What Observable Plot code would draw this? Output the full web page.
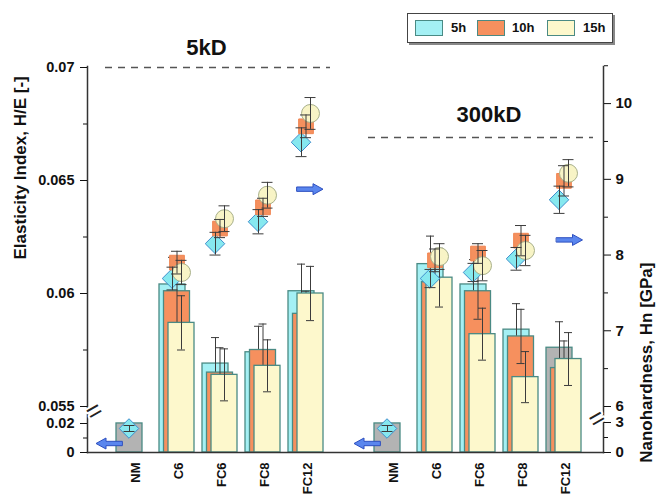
<!DOCTYPE html>
<html><head><meta charset="utf-8">
<script src="https://cdn.jsdelivr.net/npm/d3@7"></script>
<script src="https://cdn.jsdelivr.net/npm/@observablehq/plot@0.6"></script>
<style>
body{margin:0;background:#fff;font-family:"Liberation Sans",Arial,sans-serif;}
#wrap{position:relative;width:657px;height:495px;overflow:hidden;background:#fff}
#wrap svg{position:absolute;left:0;top:0}
#legend{position:absolute;left:407px;top:13px;width:204px;height:28px;border:1px solid #444;box-shadow:2px 2px 0 #888;background:#fff;font-weight:bold;font-size:13px;color:#111}
#legend .sw{position:absolute;top:6px;width:28px;height:16px;border:1px solid #4a8a84;box-sizing:border-box}
#legend .lb{position:absolute;top:6px;line-height:16px}
</style></head>
<body>
<div id="wrap"><div id="p1"></div><div id="p2"></div>
<div id="legend"></div></div>
<script>
// ---------- data ----------
const panels = ["5kD", "300kD"];
const categories = ["NM", "C6", "FC6", "FC8", "FC12"];
const series = ["5h", "10h", "15h"];

// Elasticity index H/E (bars)
const he5h_5kD    = [0.0201, 0.0604, 0.0569, 0.0574, 0.0601];
const he10h_5kD   = [null,   0.0601, 0.0565, 0.0575, 0.0591];
const he15h_5kD   = [null,   0.0587, 0.0564, 0.0568, 0.0600];
const he5h_300kD  = [0.0201, 0.0613, 0.0604, 0.0584, 0.0576];
const he10h_300kD = [null,   0.0605, 0.0601, 0.0581, 0.0567];
const he15h_300kD = [null,   0.0607, 0.0582, 0.0563, 0.0571];
// H/E standard deviations
const heErr5h_5kD    = [null, 0.0012, 0.00115, 0.00115, 0.0012];
const heErr10h_5kD   = [null, 0.0014, 0.0011,  0.00115, 0.0010];
const heErr15h_5kD   = [null, 0.0012, 0.00115, 0.00115, 0.0012];
const heErr5h_300kD  = [null, 0.00124, 0.0011, 0.00115, 0.00115];
const heErr10h_300kD = [null, 0.0012, 0.00124, 0.0012, 0.0012];
const heErr15h_300kD = [null, 0.0013, 0.00115, 0.00113, 0.00117];

// Nanohardness Hn [GPa] (markers)
const hn5h_5kD    = [2.4, 7.69, 8.15, 8.44, 9.49];
const hn10h_5kD   = [null, 7.90, 8.35, 8.63, 9.70];
const hn15h_5kD   = [null, 7.77, 8.48, 8.79, 9.87];
const hn5h_300kD  = [2.4, 7.69, 7.77, 7.95, 8.73];
const hn10h_300kD = [null, 7.93, 8.02, 8.19, 8.98];
const hn15h_300kD = [null, 7.98, 7.86, 8.06, 9.08];
// Hn standard deviations
const hnErr5h_5kD    = [0.3, 0.15, 0.15, 0.16, 0.19];
const hnErr10h_5kD   = [null, 0.15, 0.12, 0.12, 0.15];
const hnErr15h_5kD   = [null, 0.16, 0.17, 0.17, 0.21];
const hnErr5h_300kD  = [0.3, 0.12, 0.12, 0.15, 0.18];
const hnErr10h_300kD = [null, 0.15, 0.13, 0.2, 0.2];
const hnErr15h_300kD = [null, 0.17, 0.2, 0.2, 0.18];

const grayBarKeys = ["5kD|NM", "300kD|NM", "300kD|FC12"];
const refHE = [0.07, 0.0669];           // dashed reference levels (H/E)
const leftTicks = [0, 0.02, 0.055, 0.06, 0.065, 0.07];
const leftMinor = [0.01, 0.0575, 0.0625, 0.0675];
const rightTicks = [0, 3, 6, 7, 8, 9, 10];
const rightMinor = [1.5, 6.5, 7.5, 8.5, 9.5, 10.5];
const arrowLeftHn = 0.9, arrowRight5kD = 8.87, arrowRight300kD = 8.2;

// ---------- build table ----------
const HE = [[he5h_5kD, he10h_5kD, he15h_5kD], [he5h_300kD, he10h_300kD, he15h_300kD]];
const HEe = [[heErr5h_5kD, heErr10h_5kD, heErr15h_5kD], [heErr5h_300kD, heErr10h_300kD, heErr15h_300kD]];
const HN = [[hn5h_5kD, hn10h_5kD, hn15h_5kD], [hn5h_300kD, hn10h_300kD, hn15h_300kD]];
const HNe = [[hnErr5h_5kD, hnErr10h_5kD, hnErr15h_5kD], [hnErr5h_300kD, hnErr10h_300kD, hnErr15h_300kD]];
const rows = [];
panels.forEach((p, pi) => series.forEach((s, si) => categories.forEach((c, ci) => {
  const key = p + "|" + c;
  rows.push({key, panel: p, cat: c, series: s, si,
    he: HE[pi][si][ci], heErr: HEe[pi][si][ci], hn: HN[pi][si][ci], hnErr: HNe[pi][si][ci],
    gray: si === 0 && grayBarKeys.includes(key)});
})));
const labelRows = panels.flatMap(p => categories.map(c => ({key: p + "|" + c, cat: c})));
const xDomain = [...categories.map(c => "5kD|" + c), "gap", ...categories.map(c => "300kD|" + c)];

// ---------- styles ----------
const W = 657, H = 495;
const margins = {marginTop: 66, marginBottom: 43, marginLeft: 87, marginRight: 54};
const bw = 43;
const off = [-4.5, 0, 4.5];
const barFill = ["#a4f0f4", "#f6905e", "#fdf8cc"];
const barInset = [[4, 13], [8.5, 8.5], [13, 4]];
const cap = (o, w) => ({insetLeft: bw / 2 + o - w / 2, insetRight: bw / 2 - o - w / 2});
const xScale = {type: "band", domain: xDomain, range: [112, 585], padding: 0, axis: null};
const font = "'Liberation Sans', Arial, sans-serif";
const errC = "#3c3c3c";

// ---------- plot 1: bars + left axis ----------
const m1 = [];
series.forEach((s, si) => {
  const d = rows.filter(r => r.si === si && r.he != null);
  m1.push(Plot.barY(d, {x: "key", y1: 0, y2: "he", fill: r => r.gray ? "#b3b3b3" : barFill[si],
    stroke: "#4a8a84", strokeWidth: 1.3, insetLeft: barInset[si][0], insetRight: barInset[si][1]}));
  const e = d.filter(r => r.heErr != null);
  m1.push(Plot.ruleX(e, {x: "key", y1: r => r.he - r.heErr, y2: r => r.he + r.heErr, dx: off[si], stroke: errC, strokeWidth: 1}));
  m1.push(Plot.tickY(e, {x: "key", y: r => r.he + r.heErr, stroke: errC, strokeWidth: 1, ...cap(off[si], 8)}));
  m1.push(Plot.tickY(e, {x: "key", y: r => r.he - r.heErr, stroke: errC, strokeWidth: 1, ...cap(off[si], 8)}));
});
m1.push(
  Plot.ruleY([refHE[0]], {stroke: "#555", strokeWidth: 1.5, strokeDasharray: "7,6", insetLeft: 18, insetRight: 273}),
  Plot.ruleY([refHE[1]], {stroke: "#555", strokeWidth: 1.5, strokeDasharray: "7,6", insetLeft: 281, insetRight: 10}),
  Plot.frame({anchor: "left", stroke: "#333", strokeWidth: 1.5}),
  Plot.frame({anchor: "right", stroke: "#333", strokeWidth: 1.5}),
  Plot.frame({anchor: "bottom", stroke: "#333", strokeWidth: 1.5}),
  Plot.axisY({ticks: leftTicks, anchor: "left", tickSize: 7, tickPadding: 6, tickFormat: d => String(d),
    fontSize: 14.5, fontWeight: "bold", label: null, color: "#111"}),
  Plot.axisY({ticks: leftMinor, anchor: "left", tickSize: 4, tickFormat: () => "", label: null, color: "#111"}),
  Plot.text(["="], {y: () => 0.0375, frameAnchor: "left", rotate: -30, fontSize: 26, fill: "#222", stroke: "white", strokeWidth: 4, paintOrder: "stroke"}),
  Plot.text(["="], {y: () => 0.0375, frameAnchor: "right", rotate: -30, fontSize: 26, fill: "#222", stroke: "white", strokeWidth: 4, paintOrder: "stroke"}),
  Plot.text(labelRows, {x: "key", text: "cat", frameAnchor: "bottom", dy: 10, dx: 1.5, rotate: -90, textAnchor: "end",
    lineAnchor: "middle", fontSize: 13, fontWeight: "bold", fill: "#111"}),
  Plot.text(["Elasticity Index, H/E [-]"], {frameAnchor: "left", dx: -67, rotate: -90, fontSize: 17, fontWeight: "bold", fill: "#111"}),
  Plot.text(["5kD"], {x: () => "5kD|FC6", y: () => refHE[0], dx: -13.5, dy: -20, fontSize: 22, fontWeight: "bold", fill: "#111"}),
  Plot.text(["300kD"], {x: () => "300kD|FC6", y: () => refHE[1], dx: 11, dy: -23, fontSize: 22, fontWeight: "bold", fill: "#111"})
);
const plot1 = Plot.plot({width: W, height: H, ...margins, x: xScale,
  y: {type: "linear", domain: [0, 0.02, 0.055, 0.07], range: [452, 423, 406, 67], axis: null},
  color: {type: "identity"},
  style: {fontFamily: font, background: "transparent", overflow: "visible"}, marks: m1});
document.getElementById("p1").append(plot1);

// ---------- plot 2: markers + right axis ----------
const symbols = ["diamond2", "square", "circle"];
const dotFill = ["#86e8ef", "#f5905e", "#f8f4c6"];
const dotStroke = ["#3f8fcd", "#f08552", "#a8b08a"];
const dotR = [8.8, 8.3, 9];
const m2 = [];
series.forEach((s, si) => {
  const d = rows.filter(r => r.si === si && r.hn != null);
  m2.push(Plot.dot(d, {x: "key", y: "hn", dx: off[si] - (si === 0 ? 0.5 : 0), symbol: () => symbols[si], r: dotR[si],
    fill: dotFill[si], stroke: dotStroke[si], strokeWidth: 1}));
});
series.forEach((s, si) => {
  const e = rows.filter(r => r.si === si && r.hn != null && r.hnErr != null);
  m2.push(Plot.ruleX(e, {x: "key", y1: r => r.hn - r.hnErr, y2: r => r.hn + r.hnErr, dx: off[si], stroke: errC, strokeWidth: 1}));
  m2.push(Plot.tickY(e, {x: "key", y: r => r.hn + r.hnErr, stroke: errC, strokeWidth: 1, ...cap(off[si], 11)}));
  m2.push(Plot.tickY(e, {x: "key", y: r => r.hn - r.hnErr, stroke: errC, strokeWidth: 1, ...cap(off[si], 11)}));
});
const blockArrow = {draw(ctx, l) {
  const h = 10, s = 2.2, w = 5.5;
  ctx.moveTo(-s, 0); ctx.lineTo(-s, -(l - h)); ctx.lineTo(-w, -(l - h)); ctx.lineTo(0, -l);
  ctx.lineTo(w, -(l - h)); ctx.lineTo(s, -(l - h)); ctx.lineTo(s, 0); ctx.closePath();
}};
const arrowStyle = {length: 26, anchor: "start", shape: blockArrow, fill: "#5a86ee", stroke: "#2d4fc0", strokeWidth: 1};
m2.push(
  Plot.vector(["5kD|NM", "300kD|NM"], {x: d => d, y: () => arrowLeftHn, rotate: -90, dx: -12, ...arrowStyle}),
  Plot.vector(["5kD|FC12"], {x: d => d, y: () => arrowRight5kD, rotate: 90, dx: -9, ...arrowStyle}),
  Plot.vector(["300kD|FC12"], {x: d => d, y: () => arrowRight300kD, rotate: 90, dx: -7.5, ...arrowStyle}),
  Plot.axisY({ticks: rightTicks, anchor: "right", tickSize: 7, tickPadding: 5, tickFormat: d => String(d),
    fontSize: 15, fontWeight: "bold", label: null, color: "#111"}),
  Plot.axisY({ticks: rightMinor, anchor: "right", tickSize: 4, tickFormat: () => "", label: null, color: "#111"}),
  Plot.text(["Nanohardness, Hn [GPa]"], {frameAnchor: "right", dx: 43, dy: 3, rotate: -90, fontSize: 17, fontWeight: "bold", fill: "#111"})
);
const plot2 = Plot.plot({width: W, height: H, ...margins, x: xScale,
  y: {type: "linear", domain: [0, 3, 6, 10.49], range: [452, 422, 406, 66], axis: null},
  style: {fontFamily: font, background: "transparent", overflow: "visible"}, marks: m2});
document.getElementById("p2").append(plot2);

// ---------- legend ----------
const lg = document.getElementById("legend");
const swX = [7, 69, 139], lbX = [43, 104, 175];
series.forEach((s, i) => {
  const sw = document.createElement("div"); sw.className = "sw"; sw.style.left = swX[i] + "px"; sw.style.background = barFill[i];
  const lb = document.createElement("div"); lb.className = "lb"; lb.style.left = lbX[i] + "px"; lb.textContent = s;
  lg.append(sw, lb);
});
</script>
</body></html>
